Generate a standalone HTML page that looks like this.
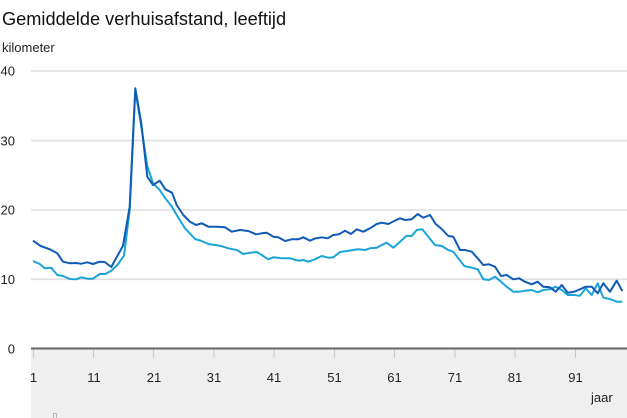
<!DOCTYPE html>
<html><head><meta charset="utf-8"><style>
html,body{margin:0;padding:0;background:#fff;}
svg{display:block;font-family:"Liberation Sans",Arial,sans-serif;}
</style></head><body>
<svg width="627" height="418" viewBox="0 0 627 418" xmlns="http://www.w3.org/2000/svg">
<rect x="0" y="0" width="627" height="418" fill="#fff"/>
<text x="2" y="25" font-size="18.2" fill="#111">Gemiddelde verhuisafstand, leeftijd</text>
<text x="2" y="52" font-size="13" fill="#222">kilometer</text>
<rect x="31" y="349" width="596" height="69" fill="#efefef"/>
<g stroke="#dedede" stroke-width="1.6">
<line x1="31" y1="71" x2="627" y2="71"/>
<line x1="31" y1="140.5" x2="627" y2="140.5"/>
<line x1="31" y1="210" x2="627" y2="210"/>
<line x1="31" y1="279.3" x2="627" y2="279.3"/>
</g>
<g font-size="13" fill="#222" text-anchor="end">
<text x="15" y="75.5">40</text>
<text x="15" y="145.5">30</text>
<text x="15" y="214.5">20</text>
<text x="15" y="284">10</text>
<text x="15" y="353.5">0</text>
</g>
<g stroke="#c8c8c8" stroke-width="1">
<line x1="33.5" y1="349" x2="33.5" y2="358"/>
<line x1="93.5" y1="349" x2="93.5" y2="358"/>
<line x1="153.5" y1="349" x2="153.5" y2="358"/>
<line x1="214" y1="349" x2="214" y2="358"/>
<line x1="274" y1="349" x2="274" y2="358"/>
<line x1="334.5" y1="349" x2="334.5" y2="358"/>
<line x1="394.5" y1="349" x2="394.5" y2="358"/>
<line x1="455" y1="349" x2="455" y2="358"/>
<line x1="515" y1="349" x2="515" y2="358"/>
<line x1="575.5" y1="349" x2="575.5" y2="358"/>
</g>
<line x1="31" y1="348.5" x2="627" y2="348.5" stroke="#666" stroke-width="2"/>
<g font-size="13" fill="#222" text-anchor="middle">
<text x="33.5" y="382">1</text>
<text x="94" y="382">11</text>
<text x="154" y="382">21</text>
<text x="214" y="382">31</text>
<text x="274" y="382">41</text>
<text x="334.5" y="382">51</text>
<text x="394.5" y="382">61</text>
<text x="455" y="382">71</text>
<text x="515" y="382">81</text>
<text x="575.5" y="382">91</text>
</g>
<text x="591" y="402" font-size="13" fill="#222">jaar</text>
<rect x="53.5" y="413.5" width="3" height="5" fill="none" stroke="#aaa" stroke-width="0.8"/>
<polyline fill="none" stroke="#1aa4d8" stroke-width="2" stroke-linejoin="round" points="33,261 39.7,264 44.7,268.3 51.3,267.7 57.3,275 63,276 69.7,279 76.3,279.3 81.3,277.3 87.3,278.7 93,278.7 99.7,274 105.3,274 111.3,270.7 117.3,265 124,255.7 129.7,210 135.3,90 141.3,126.7 147.3,166 153,183.3 159.7,190 165.3,198.3 172,206.7 176.7,215 185,228.3 195,239 201.7,241 208.3,244 220,245.7 228.3,248.3 236.7,250 243.3,254 250,252.7 256.7,252 261.7,255 268.3,259.3 273.3,257.3 281.7,258.3 290,258.3 298.3,260.7 303.3,260 308.3,261.7 315,259.3 321.7,256 328.3,257.7 333.3,257.3 340,252 346.7,251 353.3,250 358.3,249.3 365,250 370,248.3 376.7,247.7 381.7,245 386.7,242.7 393.3,247.7 400,241.7 406.7,235.7 411.7,236 416.7,230 422.3,229.3 428.3,236.7 435,245 441.7,246 448.3,250 453.3,251.7 458.3,258.3 464.3,266 470,267.3 477.7,269.3 483.3,279.3 489,280 495,276.7 501,281.7 506.7,286.7 513.3,291.7 519,291.7 525,290.7 531.7,290 537.7,292.3 543.3,290 550,289.3 555.7,286.7 561.7,290 567.7,295 574.3,295 580,295.7 585.7,288.3 591.7,295 597.7,283.3 603.3,297.7 610,299 616.7,301.7 622.3,301.7"/>
<polyline fill="none" stroke="#0f5bb5" stroke-width="2" stroke-linejoin="round" points="33,240.7 40.7,246 49.7,249.3 57.3,253.3 63,261.7 69.7,263.3 76.3,263 81.3,263.7 87.3,262.3 93,264 99.7,261.7 104.7,262 111.3,267 123,245.7 129.7,206.7 135.3,88.3 141.3,123.3 147.3,176.7 153,185 159.7,180.7 165.3,189.3 172,192.7 176.7,205 183.3,215 190,221.7 196,225 201.7,223.3 208.3,226.7 216.7,226.7 225,227.3 231.7,231.7 240,230 248.3,231 256,234.3 261.7,233.3 266.7,232.7 273.3,236.7 278.3,237.3 285,241 291.7,239.3 298.3,239.3 303.3,237.3 310,240.7 315,238.5 321.7,237.3 327.7,238.3 333.3,235 339,234.3 345,230.7 351,234 356.7,229.3 363.3,231.7 370,228.3 376.7,224 381.7,222.7 388.3,224 394.3,221 400,218.3 405,220 411.7,219.3 417.7,214 423.3,217.7 430,215 435.7,224 441.7,229 448.3,236 453.3,236.7 460,250 465,250 471.7,251.7 477.7,258.3 483.3,265 489,264.3 495,266.7 501,276 506.7,275 513.3,279.3 519,278.3 525,281.7 531.7,284.3 537.7,281.7 543.3,286.7 550,287.3 555.7,291.7 561.7,285 567.7,292.7 574.3,291.7 580,289.3 585.7,286.7 591.7,286.7 597.7,293.3 603.3,283.3 610,291.7 616.7,280.7 622.3,291"/>
</svg>
</body></html>
